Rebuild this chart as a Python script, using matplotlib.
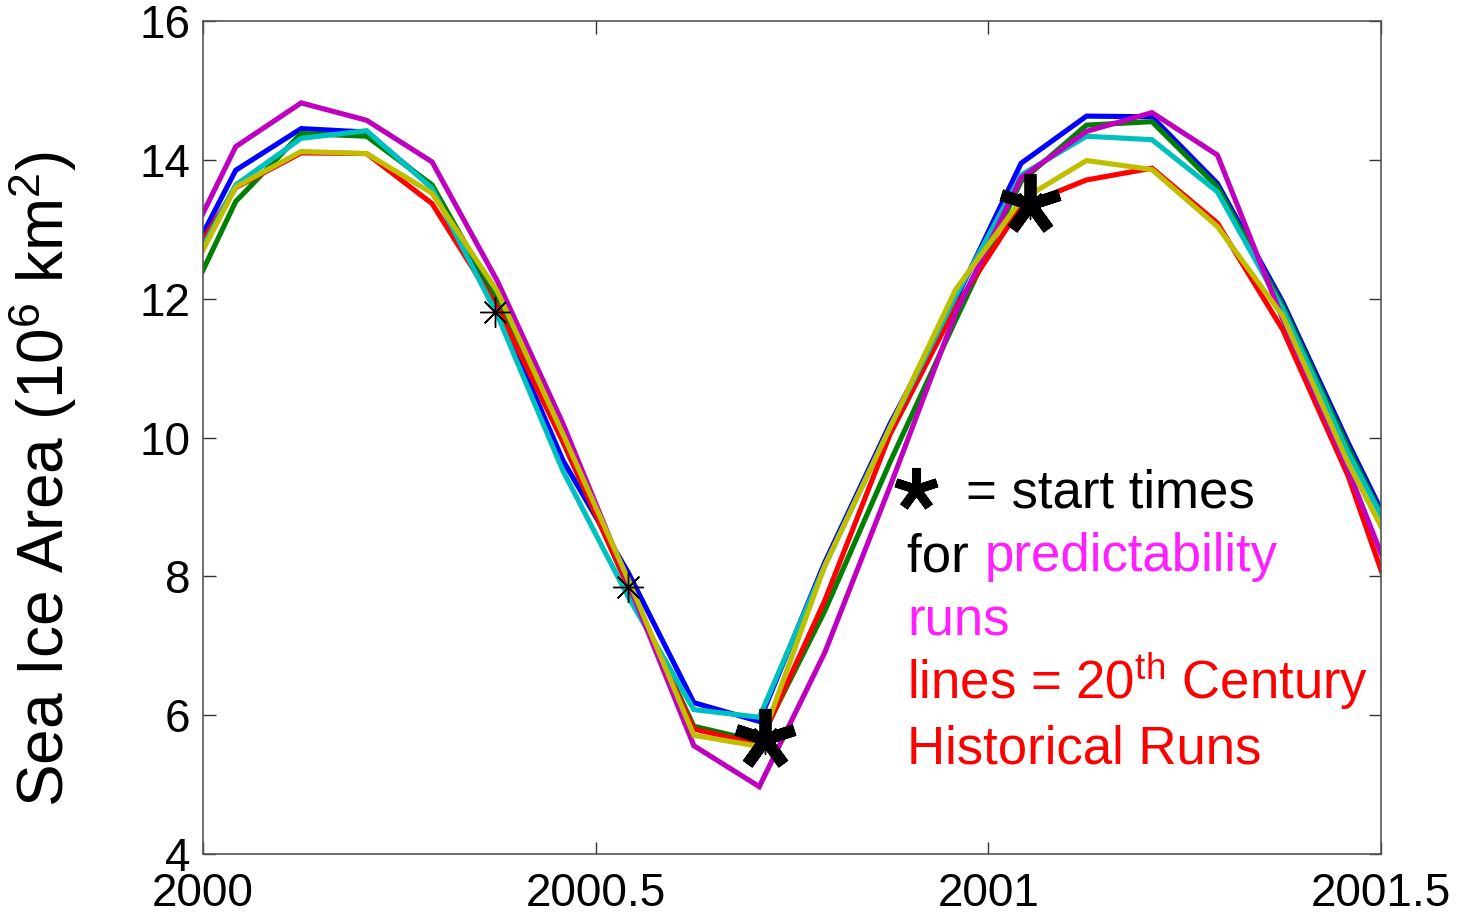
import numpy as np
import matplotlib
matplotlib.use("Agg")
import matplotlib.pyplot as plt
from matplotlib.markers import MarkerStyle

plt.rcParams['font.family'] = ['Liberation Sans', 'DejaVu Sans']
plt.rcParams['mathtext.fontset'] = 'custom'
plt.rcParams['mathtext.rm'] = 'Liberation Sans'
plt.rcParams['mathtext.it'] = 'Liberation Sans:italic'
plt.rcParams['mathtext.bf'] = 'Liberation Sans:bold'

# monthly mid-points, Dec 1999 .. Jun 2001
months = 2000 + (np.arange(-1, 19) + 0.5) / 12.0

blue = [12.03, 13.85, 14.45, 14.40, 13.61, 11.85, 9.67, 8.05, 6.18, 5.91,
        8.20, 10.20, 11.98, 13.95, 14.63, 14.62, 13.66, 11.95, 9.92, 8.00]
green = [11.42, 13.40, 14.38, 14.34, 13.64, 11.98, 9.94, 7.84, 5.84, 5.62,
         7.50, 9.65, 11.69, 13.69, 14.50, 14.55, 13.61, 11.90, 9.85, 7.95]
red = [12.10, 13.60, 14.10, 14.09, 13.37, 11.87, 9.94, 7.85, 5.80, 5.58,
       7.65, 10.05, 11.88, 13.33, 13.71, 13.88, 13.09, 11.55, 9.44, 6.74]
cyan = [11.86, 13.64, 14.31, 14.42, 13.59, 11.76, 9.52, 7.70, 6.08, 5.97,
        8.15, 10.15, 12.03, 13.78, 14.34, 14.29, 13.54, 11.85, 9.78, 7.98]
magenta = [12.27, 14.19, 14.82, 14.57, 13.97, 12.25, 10.20, 7.90, 5.56, 4.97,
           6.90, 9.30, 11.79, 13.74, 14.41, 14.68, 14.07, 11.70, 9.53, 7.13]
yellow = [11.79, 13.61, 14.12, 14.09, 13.52, 12.10, 10.05, 7.95, 5.71, 5.55,
          8.15, 10.15, 12.13, 13.42, 13.99, 13.86, 13.04, 11.75, 9.63, 7.81]

series = [
    (blue, (0, 0, 1)),
    (green, (0, 0.5, 0)),
    (red, (1, 0, 0)),
    (cyan, (0, 0.75, 0.75)),
    (magenta, (0.75, 0, 0.75)),
    (yellow, (0.75, 0.75, 0)),
]

start_t = [2000.372, 2000.541, 2000.716, 2001.053]
start_v = [11.81, 7.84, 5.66, 13.37]
big_t = [2000.716, 2001.053]
big_v = [5.66, 13.37]

xticks = [2000, 2000.5, 2001, 2001.5]
xticklabels = ['2000', '2000.5', '2001', '2001.5']
yticks = [4, 6, 8, 10, 12, 14, 16]

fig = plt.figure(figsize=(14.58, 9.15), dpi=100)
ax = fig.add_axes([203/1458, 61/915, 1178/1458, 833/915])

for vals, col in series:
    ax.plot(months, vals, color=col, lw=3.7, solid_joinstyle='miter')

# small asterisk markers at start times
ax.plot(start_t, start_v, linestyle='none', marker=(8, 2, 0), markersize=22,
        markeredgecolor='black', markeredgewidth=1.0, zorder=5)
# big bold asterisks
big = MarkerStyle((5, 2, 0), capstyle='butt')
ax.plot(big_t, big_v, linestyle='none', marker=big, markersize=44,
        markeredgecolor='black', markeredgewidth=8.5, zorder=6)

ax.set_xlim(2000, 2001.5)
ax.set_ylim(4, 16)
ax.set_xticks(xticks)
ax.set_xticklabels(xticklabels)
ax.set_yticks(yticks)
ax.tick_params(direction='in', length=9, width=1.0, top=True, right=True,
               labelsize=33, color='#333333')
ax.tick_params(axis='y', pad=9)
ax.tick_params(axis='x', pad=13)
for sp in ax.spines.values():
    sp.set_color('#555555')
    sp.set_linewidth(1.2)

ax.set_ylabel('Sea Ice Area (10$^6$ km$^2$)', fontsize=46)
ax.yaxis.set_label_coords(-0.105, 0.45)

# annotation text block
def fx(px):
    return (px - 203) / 1178.0

def fy(py):
    return (854 - py) / 833.0

ax.plot([fx(916)], [fy(489)], transform=ax.transAxes, linestyle='none',
        marker=big, markersize=31, markeredgecolor='black',
        markeredgewidth=6.5, clip_on=False, zorder=6)
fs = 38
ax.text(fx(966), fy(507), '= start times', transform=ax.transAxes,
        fontsize=fs, color='black', va='baseline', ha='left')
ax.text(fx(907), fy(571), 'for ', transform=ax.transAxes,
        fontsize=fs, color='black', va='baseline', ha='left')
ax.text(fx(985), fy(571), 'predictability', transform=ax.transAxes,
        fontsize=fs, color='#ff1fff', va='baseline', ha='left')
ax.text(fx(907), fy(635), 'runs', transform=ax.transAxes,
        fontsize=fs, color='#ff1fff', va='baseline', ha='left')
ax.text(fx(907), fy(699), 'lines = 20$^{\\mathrm{th}}$ Century',
        transform=ax.transAxes, fontsize=fs, color='#ff0000',
        va='baseline', ha='left')
ax.text(fx(907), fy(763), 'Historical Runs', transform=ax.transAxes,
        fontsize=fs, color='#ff0000', va='baseline', ha='left')

fig.savefig('out.png', dpi=100)
